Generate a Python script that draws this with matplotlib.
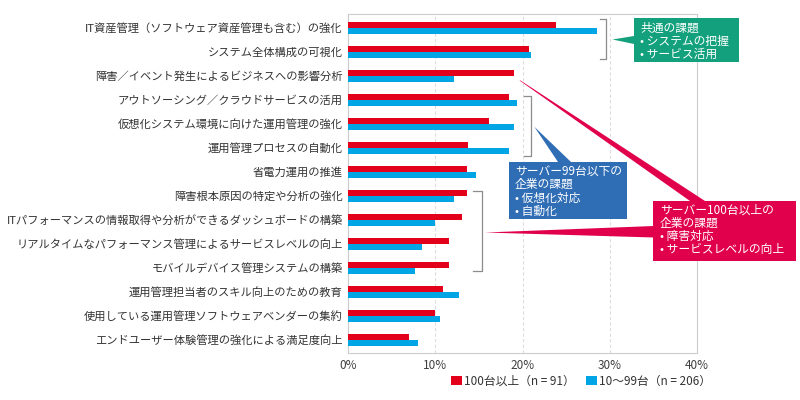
import numpy as np
import matplotlib.pyplot as plt
from matplotlib.patches import Polygon, Rectangle, Patch
from matplotlib.lines import Line2D

plt.rcParams['font.family'] = ['Noto Sans CJK JP', 'DejaVu Sans']

W, H = 800, 400

categories = [
    "IT資産管理（ソフトウェア資産管理も含む）の強化",
    "システム全体構成の可視化",
    "障害／イベント発生によるビジネスへの影響分析",
    "アウトソーシング／クラウドサービスの活用",
    "仮想化システム環境に向けた運用管理の強化",
    "運用管理プロセスの自動化",
    "省電力運用の推進",
    "障害根本原因の特定や分析の強化",
    "ITパフォーマンスの情報取得や分析ができるダッシュボードの構築",
    "リアルタイムなパフォーマンス管理によるサービスレベルの向上",
    "モバイルデバイス管理システムの構築",
    "運用管理担当者のスキル向上のための教育",
    "使用している運用管理ソフトウェアベンダーの集約",
    "エンドユーザー体験管理の強化による満足度向上",
]
over_100 = [23.8, 20.7, 19.0, 18.5, 16.1, 13.7, 13.6, 13.6, 13.0, 11.6, 11.6, 10.9, 9.9, 7.0]
under_99 = [28.6, 21.0, 12.1, 19.4, 19.0, 18.5, 14.7, 12.1, 10.0, 8.5, 7.7, 12.7, 10.5, 8.0]
series_labels = ["100台以上（n = 91）", "10～99台（n = 206）"]
x_ticks = [0, 10, 20, 30, 40]

common_note = "共通の課題\n• システムの把握\n• サービス活用"
small_note = "サーバー99台以下の\n企業の課題\n• 仮想化対応\n• 自動化"
large_note = "サーバー100台以上の\n企業の課題\n• 障害対応\n• サービスレベルの向上"

RED = '#e2001a'
BLUE = '#00a5e6'


def fxy(x, y):
    # pixel position (top-left origin) -> figure fraction
    return (x / W, 1 - y / H)


fig = plt.figure(figsize=(8, 4), dpi=100)
fig.subplots_adjust(left=348.3 / W, right=696.7 / W, top=1 - 14.3 / H, bottom=1 - 353.3 / H)
ax = fig.add_subplot(111)

y = np.arange(len(categories))
bh = 0.25
ax.barh(y - bh / 2, over_100, height=bh, color=RED, label=series_labels[0], zorder=3)
ax.barh(y + bh / 2, under_99, height=bh, color=BLUE, label=series_labels[1], zorder=3)

ax.set_ylim(len(categories) - 0.44, -0.56)
ax.set_xlim(0, 40)
ax.set_yticks(y)
ax.set_yticklabels(categories, fontsize=8.1, color='#333333')
ax.set_xticks(x_ticks)
ax.set_xticklabels([f"{t}%" for t in x_ticks], fontsize=8.5, color='#404040')
ax.tick_params(axis='both', length=0)
ax.tick_params(axis='y', pad=4)
ax.tick_params(axis='x', pad=4)
for s in ax.spines.values():
    s.set_color('#cccccc')
    s.set_linewidth(0.8)
for t in x_ticks[1:-1]:
    ax.axvline(t, color='#dddddd', lw=0.8, ls=(0, (3, 2)), zorder=1)

# pointers
pointers = [
    ('#13a17d', [(612.5, 39.5), (634, 36), (634, 44)]),
    ('#2f6db5', [(534.3, 126.7), (558, 162), (571, 162)]),
    ('#e1004c', [(519.5, 80.5), (520.5, 80.5), (705, 201), (690, 201)]),
    ('#e1004c', [(485, 232.5), (654, 226), (654, 237.5)]),
]
for col, pts in pointers:
    fig.add_artist(Polygon([fxy(px, py) for px, py in pts], closed=True,
                           transform=fig.transFigure, facecolor=col,
                           edgecolor='none', zorder=5))

# boxes with notes
boxes = [
    ('#13a17d', (633.5, 18.3, 739.3, 62.3), common_note, (640, 21.5)),
    ('#2f6db5', (509, 161.7, 626.7, 219.5), small_note, (515, 165)),
    ('#e1004c', (653.3, 200.5, 795.7, 260.7), large_note, (660, 203.5)),
]
for col, (x0, y0, x1, y1), txt, (tx, ty) in boxes:
    fx0, fy1 = fxy(x0, y1)
    fig.add_artist(Rectangle((fx0, fy1), (x1 - x0) / W, (y1 - y0) / H,
                             transform=fig.transFigure, facecolor=col,
                             edgecolor='none', zorder=6))
    fig.text(*fxy(tx, ty), txt, color='white', fontsize=8.5, va='top', ha='left',
             linespacing=1.02, zorder=7)

# brackets
brackets = [
    (600, 606, 19.3, 59.0),
    (524, 530.7, 96.0, 155.7),
    (473.3, 481.7, 190.7, 270.7),
]
for xa, xb, ya, yb in brackets:
    pts = [fxy(xa, ya), fxy(xb, ya), fxy(xb, yb), fxy(xa, yb)]
    fig.add_artist(Line2D([p[0] for p in pts], [p[1] for p in pts],
                          transform=fig.transFigure, color='#8c8c8c', lw=0.9, zorder=4))

handles = [Patch(facecolor=RED), Patch(facecolor=BLUE)]
fig.legend(handles, series_labels, loc='center', bbox_to_anchor=fxy(581, 381),
           ncol=2, frameon=False, fontsize=8.5, handlelength=0.9, handleheight=0.9,
           handletextpad=0.15, columnspacing=1.0, labelcolor='#333333')

fig.savefig('out.png', dpi=100)
